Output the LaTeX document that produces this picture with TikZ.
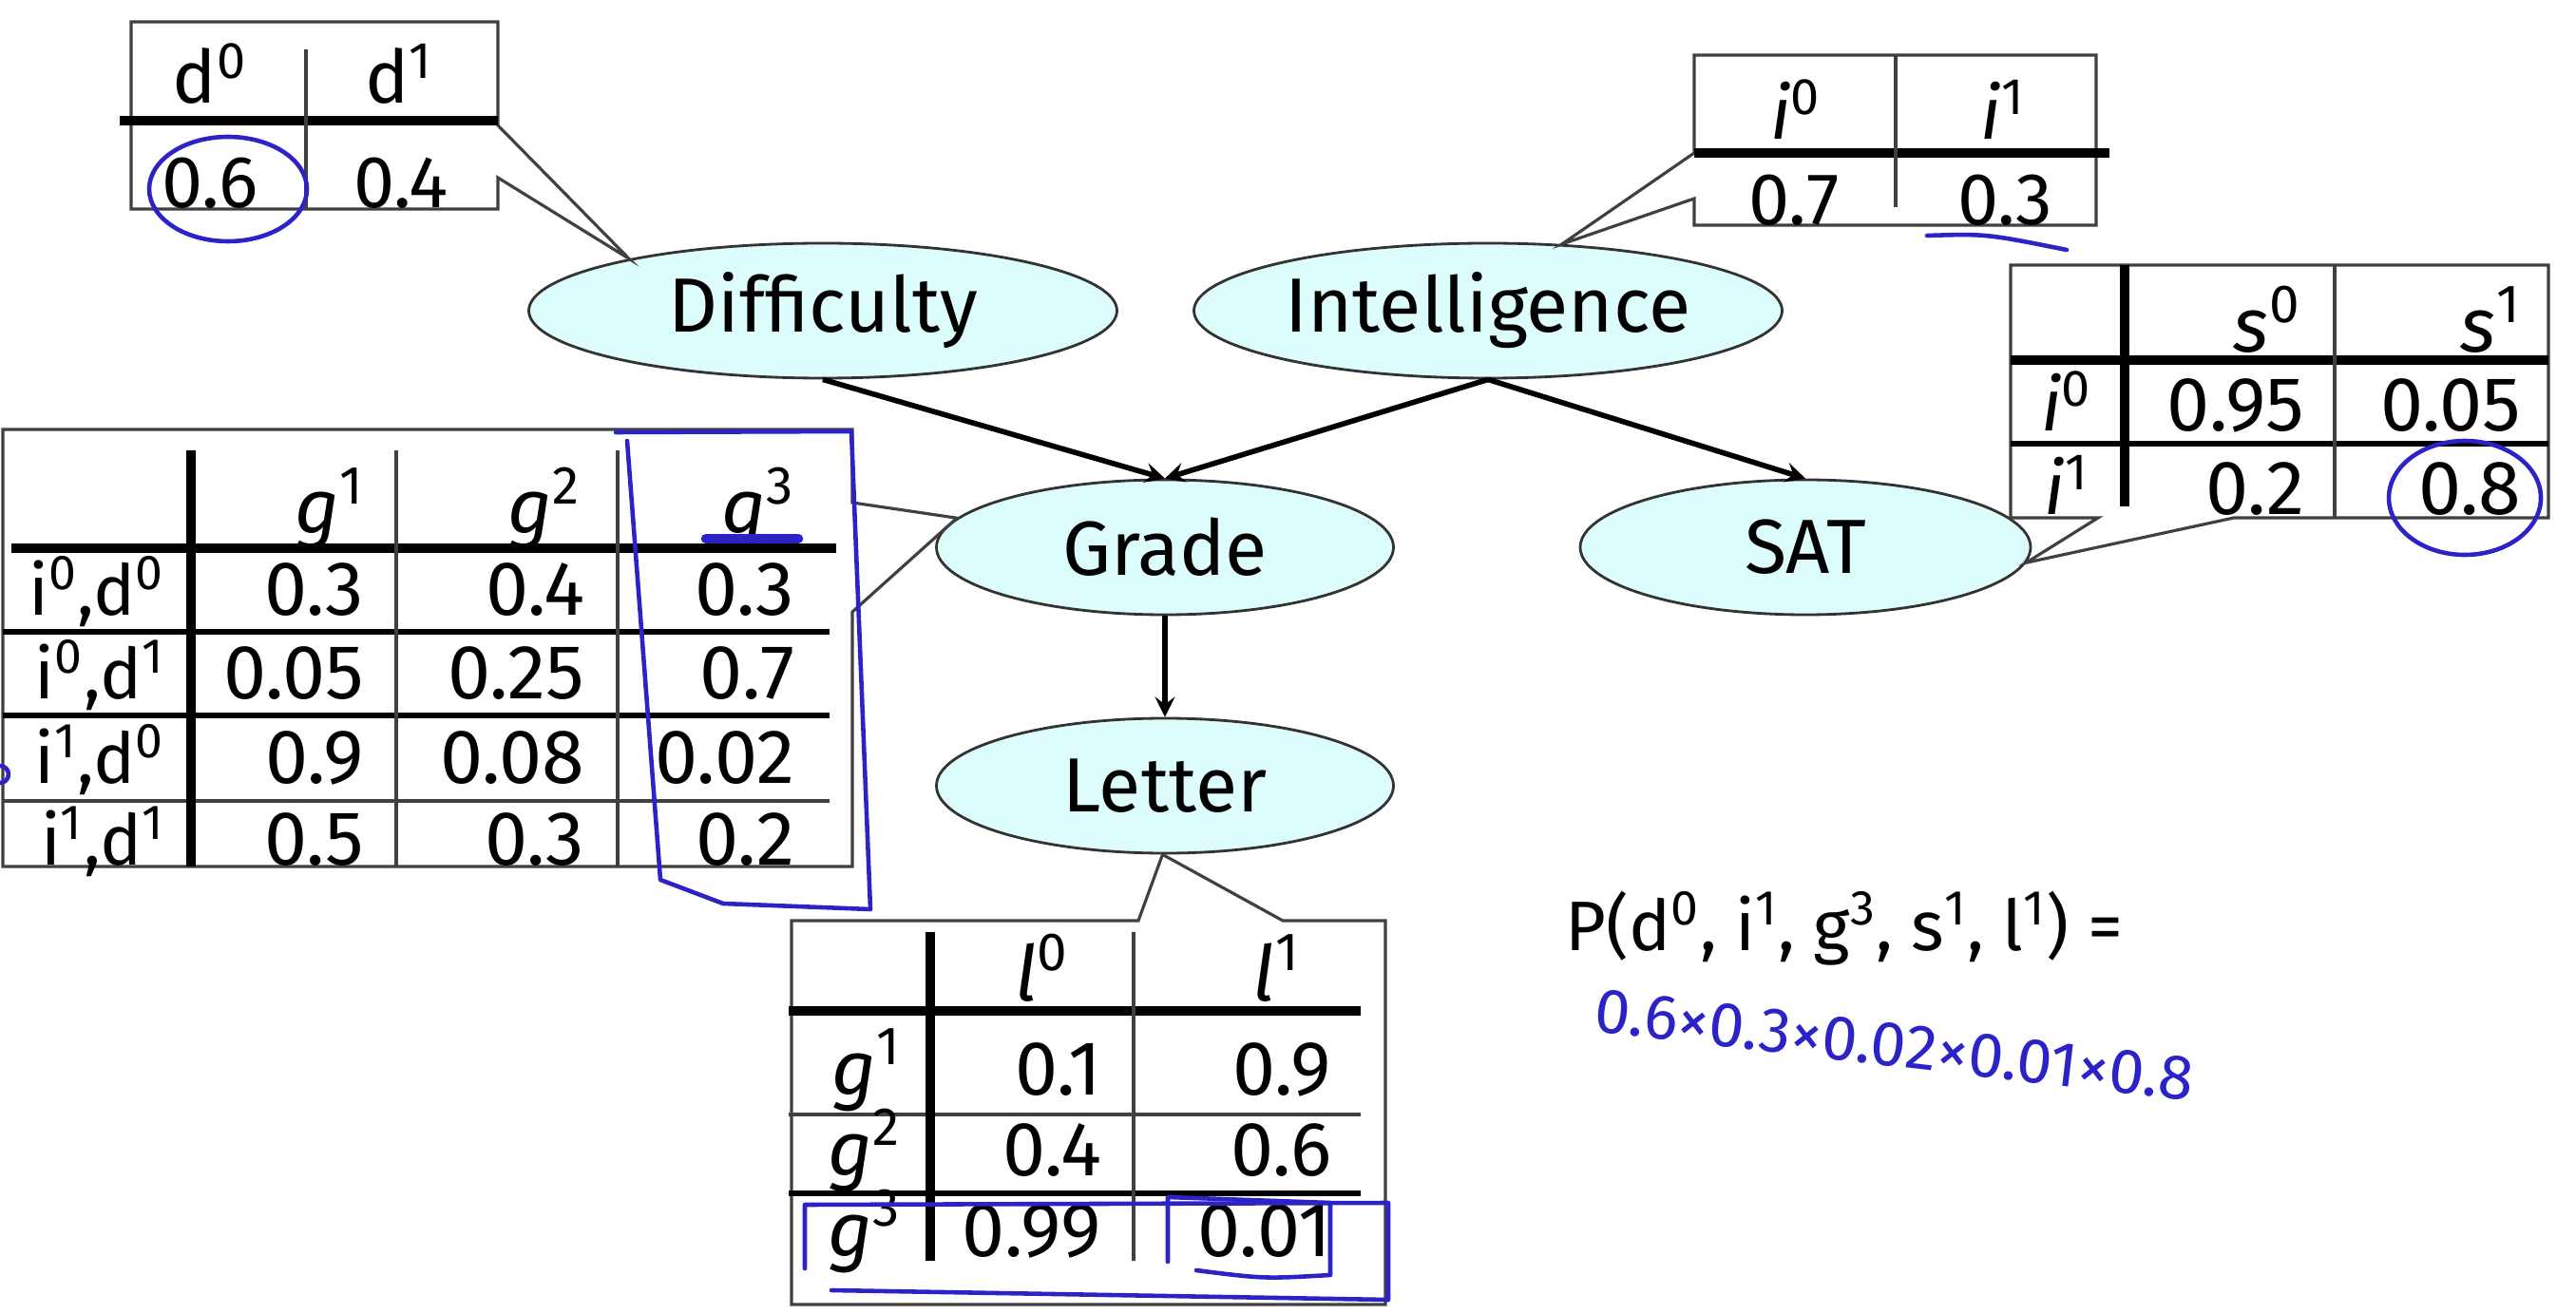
\documentclass[tikz,border=0pt]{standalone}
\usepackage{fontspec}
\setmainfont{Fira Sans}
\usetikzlibrary{shapes.geometric}
\definecolor{nodefill}{HTML}{DDFCFC}
\definecolor{ink}{HTML}{2B22C8}
\newcommand{\sv}[2]{#1\textsuperscript{#2}}

\begin{document}
\begin{tikzpicture}[
    var/.style={ellipse, draw=black!80, fill=nodefill, line width=0.8pt,
                minimum height=1.42cm, inner sep=0pt,
                font=\fontsize{23}{26}\selectfont},
    arrow/.style={->, line width=1.6pt, >=stealth},
    frame/.style={draw=black!75, line width=0.9pt},
    heavy/.style={line width=2.6pt},
    mid/.style={line width=1.8pt},
    cellr/.style={anchor=base east, inner sep=0pt, font=\fontsize{23}{26}\selectfont},
    cellc/.style={anchor=base, inner sep=0pt, font=\fontsize{22}{26}\selectfont},
    pen/.style={draw=ink, line width=1.3pt, line cap=round, line join=round},
  ]
  \useasboundingbox (0,0) rectangle (27.11,13.82);

  % network
  \node[var, minimum width=6.19cm] (diff)   at (8.66,10.55)  {Difficulty};
  \node[var, minimum width=6.19cm] (intel)  at (15.66,10.55) {Intelligence};
  \node[var, minimum width=4.81cm] (grade)  at (12.26,8.06)  {Grade};
  \node[var, minimum width=4.74cm] (sat)    at (19.00,8.06)  {SAT};
  \node[var, minimum width=4.81cm] (letter) at (12.26,5.55)  {Letter};

  \draw[arrow] (diff.south)  -- (grade.north);
  \draw[arrow] (intel.south) -- (grade.north);
  \draw[arrow] (intel.south) -- (sat.north);
  \draw[arrow] (grade)       -- (letter);

  % P(D)
  \draw[frame] (1.38,13.59) -- (5.24,13.59) -- (5.24,12.50) -- (diff.165)
    -- (5.24,11.95) -- (5.24,11.62) -- (1.38,11.62) -- cycle;
  \draw[heavy] (1.26,12.55) -- (5.24,12.55);
  \draw[frame] (3.22,13.30) -- (3.22,11.62);
  \node[cellc] (d0)  at (2.21,12.73) {\sv{d}{0}};
  \node[cellc] (d1)  at (4.20,12.73) {\sv{d}{1}};
  \node[cellc] (pd0) at (2.21,11.63) {0.6};
  \node[cellc] (pd1) at (4.22,11.63) {0.4};

  % P(I)
  \draw[frame] (17.83,13.24) -- (22.06,13.24) -- (22.06,11.45) -- (17.83,11.45)
    -- (17.83,11.73) -- (intel.42) -- (17.83,12.21) -- cycle;
  \draw[heavy] (17.83,12.21) -- (22.20,12.21);
  \draw[frame] (19.95,13.24) -- (19.95,11.64);
  \node[cellc] (i0)  at (18.90,12.35) {\sv{\textit{i}}{0}};
  \node[cellc] (i1)  at (21.08,12.35) {\sv{\textit{i}}{1}};
  \node[cellc] (pi0) at (18.88,11.45) {0.7};
  \node[cellc] (pi1) at (21.10,11.45) {0.3};

  % P(S | I)
  \draw[frame] (21.16,11.03) -- (26.82,11.03) -- (26.82,8.37) -- (23.51,8.37)
    -- (sat.-4) -- (22.08,8.37) -- (21.16,8.37) -- cycle;
  \draw[heavy] (21.16,10.03) -- (26.82,10.03);
  \draw[mid] (21.16,9.15) -- (26.82,9.15);
  \draw[heavy] (22.36,11.03) -- (22.36,8.49);
  \draw[frame] (24.57,11.03) -- (24.57,8.37);
  \node[cellr] (s0) at (24.22,10.11) {\sv{\textit{s}}{0}};
  \node[cellr] (s1) at (26.54,10.11) {\sv{\textit{s}}{1}};
  \foreach \y/\lab/\a/\b [count=\r] in {9.28/0/0.95/0.05, 8.40/1/0.2/0.8}{
    \node[cellc] (si\r) at (21.75,\y) {\sv{\textit{i}}{\lab}};
    \node[cellr] (sa\r) at (24.26,\y) {\a};
    \node[cellr] (sb\r) at (26.54,\y) {\b};
  }

  % P(G | I, D)
  \draw[frame] (0.03,9.30) -- (8.97,9.30) -- (8.97,8.53) -- (grade.172)
    -- (8.97,7.38) -- (8.97,4.70) -- (0.03,4.70) -- cycle;
  \draw[heavy] (0.12,8.05) -- (8.80,8.05);
  \draw[mid] (0.03,7.17) -- (8.73,7.17);
  \draw[mid] (0.03,6.29) -- (8.73,6.29);
  \draw[frame] (0.03,5.39) -- (8.73,5.39);
  \draw[heavy] (2.01,9.08) -- (2.01,4.70);
  \draw[frame] (4.17,9.08) -- (4.17,4.70);
  \draw[frame] (6.50,9.08) -- (6.50,4.70);
  \node[cellr] (g1) at (3.84,8.20) {\sv{\textit{g}}{1}};
  \node[cellr] (g2) at (6.12,8.20) {\sv{\textit{g}}{2}};
  \node[cellr] (g3) at (8.37,8.20) {\sv{\textit{g}}{3}};
  \foreach \y/\lab/\a/\b/\c [count=\r] in {
      7.35/{\sv{i}{0},\sv{d}{0}}/0.3/0.4/0.3,
      6.47/{\sv{i}{0},\sv{d}{1}}/0.05/0.25/0.7,
      5.58/{\sv{i}{1},\sv{d}{0}}/0.9/0.08/0.02,
      4.72/{\sv{i}{1},\sv{d}{1}}/0.5/0.3/0.2}{
    \node[cellr, font=\fontsize{21}{26}\selectfont] (gr\r) at (1.74,\y) {\lab};
    \node[cellr] (ga\r) at (3.84,\y) {\a};
    \node[cellr] (gb\r) at (6.16,\y) {\b};
    \node[cellr] (gc\r) at (8.37,\y) {\c};
  }

  % P(L | G)
  \draw[frame] (8.33,4.13) -- (11.98,4.13) -- (letter.268) -- (13.50,4.13)
    -- (14.58,4.13) -- (14.58,0.09) -- (8.33,0.09) -- cycle;
  \draw[heavy] (8.30,3.18) -- (14.32,3.18);
  \draw[frame] (8.30,2.09) -- (14.32,2.09);
  \draw[mid] (8.30,1.26) -- (14.32,1.26);
  \draw[heavy] (9.79,4.01) -- (9.79,0.55);
  \draw[frame] (11.93,4.01) -- (11.93,0.55);
  \node[cellr] (l0) at (11.26,3.29) {\sv{\textit{l}}{0}};
  \node[cellr] (l1) at (13.69,3.29) {\sv{\textit{l}}{1}};
  \foreach \y/\lab/\a/\b [count=\r] in {2.30/1/0.1/0.9, 1.45/2/0.4/0.6, 0.60/3/0.99/0.01}{
    \node[cellr] (lg\r) at (9.49,\y) {\sv{\textit{g}}{\lab}};
    \node[cellr] (la\r) at (11.60,\y) {\a};
    \node[cellr] (lb\r) at (14.02,\y) {\b};
  }

  % joint
  \node[anchor=base west, inner sep=0pt, font=\fontsize{21}{26}\selectfont] (joint)
    at (16.47,3.82) {P(\sv{d}{0}, \sv{i}{1}, \sv{g}{3}, \sv{s}{1}, \sv{l}{1}) =};
  \node[text=ink, rotate=-6.6, inner sep=0pt, font=\fontsize{19}{22}\selectfont] (calc)
    at (19.94,2.82) {0.6×0.3×0.02×0.01×0.8};

  % pen marks
  \draw[pen] (2.40,11.83) ellipse (0.83 and 0.55);
  \draw[pen] (20.28,11.34) .. controls (20.9,11.36) .. (21.75,11.19);
  \draw[pen] (25.94,8.58) ellipse (0.80 and 0.60);
  \draw[pen, line width=3pt] (7.43,8.15) -- (8.40,8.15);
  \draw[pen] (6.48,9.27) -- (8.96,9.28) -- (9.16,4.25) -- (7.61,4.31)
    -- (6.95,4.56) -- (6.60,9.18);
  \draw[pen] (0,5.67) circle (0.09);
  \draw[pen] (8.47,0.47) -- (8.47,1.14) -- (14.61,1.16) -- (14.61,0.14) -- (8.75,0.24);
  \draw[pen] (12.29,0.54) -- (12.29,1.22) -- (14.00,1.16) -- (14.00,0.40)
    .. controls (13.3,0.36) .. (12.59,0.45);
\end{tikzpicture}
\end{document}
